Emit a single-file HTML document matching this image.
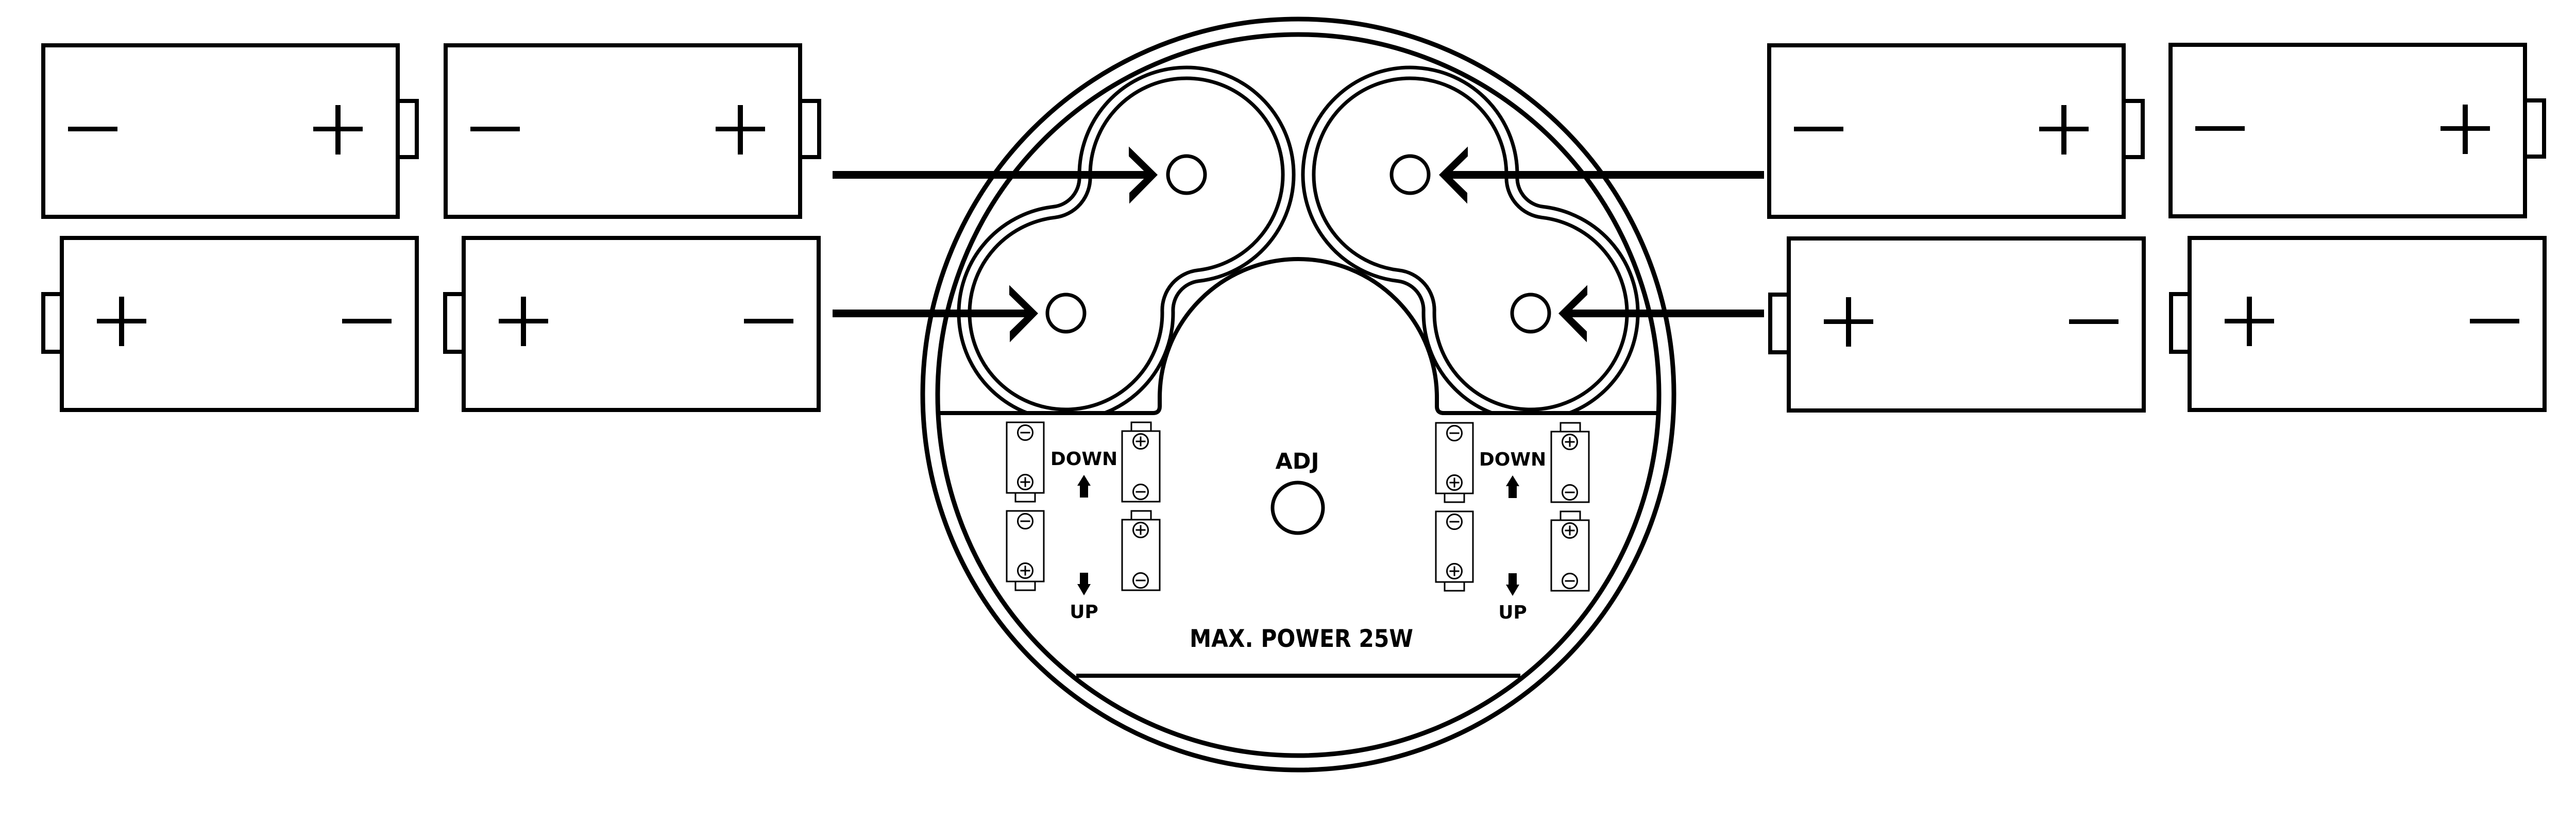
<!DOCTYPE html>
<html><head><meta charset="utf-8"><style>
html,body{margin:0;padding:0;background:#fff;}
svg{display:block;}
text{font-family:"DejaVu Sans","Liberation Sans",sans-serif;font-weight:bold;fill:#000;}
</style></head><body>
<svg width="5040" height="1596" viewBox="0 0 5040 1596" xmlns="http://www.w3.org/2000/svg">
<defs>
  <clipPath id="abovePanel"><rect x="0" y="0" width="5040" height="803"/></clipPath>
  <g id="batR">
    <rect x="692" y="112" width="37" height="109" fill="#fff" stroke="#000" stroke-width="8"/>
    <rect x="4" y="4" width="688" height="333" fill="#fff" stroke="#000" stroke-width="8"/>
    <rect x="52" y="162" width="96" height="9" fill="#000"/>
    <rect x="528" y="162" width="96" height="9" fill="#000"/>
    <rect x="571" y="120" width="10" height="96" fill="#000"/>
  </g>
  <g id="batL">
    <rect x="-32" y="113" width="36" height="112" fill="#fff" stroke="#000" stroke-width="8"/>
    <rect x="4" y="4" width="689" height="334" fill="#fff" stroke="#000" stroke-width="8"/>
    <rect x="72" y="161" width="96" height="9" fill="#000"/>
    <rect x="115" y="118" width="10" height="96" fill="#000"/>
    <rect x="548" y="161" width="96" height="9" fill="#000"/>
  </g>
  <g id="cminus"><circle r="14.5" fill="#fff" stroke="#000" stroke-width="3"/><rect x="-9.5" y="-1.5" width="19" height="3" fill="#000"/></g>
  <g id="cplus"><circle r="14.5" fill="#fff" stroke="#000" stroke-width="3"/><rect x="-9.5" y="-1.5" width="19" height="3" fill="#000"/><rect x="-1.5" y="-9.5" width="3" height="19" fill="#000"/></g>
  <g id="sbA">
    <rect x="17" y="137" width="38" height="17" fill="#fff" stroke="#000" stroke-width="3"/>
    <rect x="0" y="0" width="72" height="137" fill="#fff" stroke="#000" stroke-width="3"/>
    <use href="#cminus" x="36" y="20"/>
    <use href="#cplus" x="36" y="116"/>
  </g>
  <g id="sbC">
    <rect x="18" y="0" width="38" height="17" fill="#fff" stroke="#000" stroke-width="3"/>
    <rect x="0" y="17" width="73" height="137" fill="#fff" stroke="#000" stroke-width="3"/>
    <use href="#cplus" x="36" y="37"/>
    <use href="#cminus" x="36" y="135"/>
  </g>
  <g id="arrowhead"><polygon points="-56,-55 0,0 -55,56 -55,35 -19,0 -56,-36" fill="#000"/></g>
  <g id="half">
    <g clip-path="url(#abovePanel)">
      <path d="M2095.1,343.6 A208,208 0 1 1 2327.3,545.6 A57,57 0 0 0 2276.9,603.4 A208,208 0 1 1 2044.7,401.4 A57,57 0 0 0 2095.1,343.6 Z" fill="none" stroke="#000" stroke-width="7"/>
      <path d="M2116.1,343.1 A187,187 0 1 1 2324.8,524.7 A78,78 0 0 0 2255.9,603.9 A187,187 0 1 1 2047.2,422.3 A78,78 0 0 0 2116.1,343.1 Z" fill="none" stroke="#000" stroke-width="7"/>
    </g>
    <circle cx="2303" cy="339" r="36" fill="#fff" stroke="#000" stroke-width="7"/>
    <circle cx="2069" cy="608" r="36" fill="#fff" stroke="#000" stroke-width="7"/>
    <rect x="1616" y="332" width="617" height="15" fill="#000"/>
    <use href="#arrowhead" x="2247" y="339.5"/>
    <rect x="1616" y="601" width="385" height="15" fill="#000"/>
    <use href="#arrowhead" x="2015" y="608.5"/>
  </g>
</defs>

<!-- Left batteries -->
<use href="#batR" x="80" y="84"/>
<use href="#batR" x="861" y="84"/>
<use href="#batL" x="116" y="458"/>
<use href="#batL" x="896" y="458"/>
<!-- Right batteries -->
<use href="#batR" x="3430" y="84"/>
<use href="#batR" x="4209" y="83"/>
<use href="#batL" x="3468" y="459"/>
<use href="#batL" x="4246" y="458"/>

<!-- Main circles -->
<circle cx="2520" cy="766" r="729" fill="none" stroke="#000" stroke-width="9"/>
<circle cx="2520" cy="767" r="700" fill="none" stroke="#000" stroke-width="9"/>

<!-- panel top line with arch -->
<path d="M1823,802 H2238 Q2251,802 2251,789 V772 A269,269 0 0 1 2789,772 V789 Q2789,802 2802,802 H3217" fill="none" stroke="#000" stroke-width="8"/>
<!-- bottom line -->
<line x1="2089" y1="1312" x2="2951" y2="1312" stroke="#000" stroke-width="8"/>

<use href="#half"/>
<use href="#half" transform="translate(5040,0) scale(-1,1)"/>

<!-- small batteries left group -->
<use href="#sbA" x="1954" y="820"/>
<use href="#sbA" x="1954" y="992"/>
<use href="#sbC" x="2178" y="820"/>
<use href="#sbC" x="2178" y="992"/>
<!-- right group -->
<use href="#sbA" x="2787" y="821"/>
<use href="#sbA" x="2787" y="993"/>
<use href="#sbC" x="3011" y="821"/>
<use href="#sbC" x="3011" y="993"/>

<!-- up/down arrows -->
<polygon points="2104,922 2117,943 2112,943 2112,966 2096,966 2096,943 2091,943" fill="#000"/>
<polygon points="2104,1156 2117,1134 2112,1134 2112,1112 2096,1112 2096,1134 2091,1134" fill="#000"/>
<polygon points="2936,923 2949,944 2944,944 2944,967 2928,967 2928,944 2923,944" fill="#000"/>
<polygon points="2936,1157 2949,1135 2944,1135 2944,1113 2928,1113 2928,1135 2923,1135" fill="#000"/>

<text x="2104" y="903" font-size="36" text-anchor="middle">DOWN</text>
<text x="2104" y="1200" font-size="36" text-anchor="middle">UP</text>
<text x="2936" y="904" font-size="36" text-anchor="middle">DOWN</text>
<text x="2936" y="1201" font-size="36" text-anchor="middle">UP</text>

<text x="2518" y="910" font-size="43" text-anchor="middle">ADJ</text>
<circle cx="2519" cy="986" r="49" fill="none" stroke="#000" stroke-width="7"/>

<text x="2309" y="1256" font-size="47" textLength="434" lengthAdjust="spacingAndGlyphs">MAX. POWER 25W</text>
</svg>
</body></html>
